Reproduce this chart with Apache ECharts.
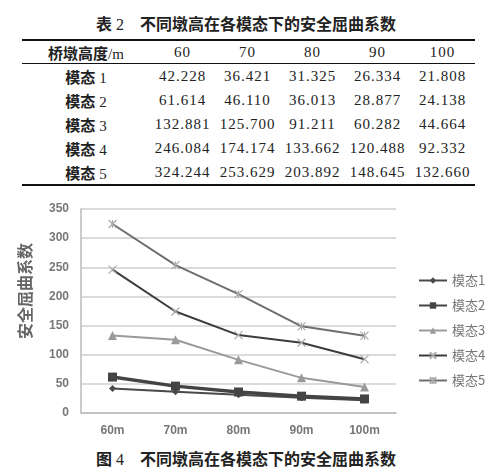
<!DOCTYPE html>
<html>
<head>
<meta charset="utf-8">
<script src="https://cdn.jsdelivr.net/npm/echarts@6/dist/echarts.min.js"></script>
<style>
  body { margin: 0; width: 492px; height: 470px; background: #fff; position: relative; overflow: hidden; }
  .title { position: absolute; left: 0; width: 492px; text-align: center; font-family: "Noto Sans CJK SC"; font-weight: bold; font-size: 16px; color: #222; }
  .title .num { font-family: "Liberation Serif"; font-weight: normal; }
  table { position: absolute; left: 22px; top: 39px; border-collapse: collapse; color: #222; }
  table td { padding: 0; text-align: center; font-family: "Liberation Serif"; font-size: 15px; letter-spacing: 1px; height: 24px; }
  table td.lab { width: 128px; font-family: "Noto Sans CJK SC"; font-weight: bold; letter-spacing: 0; }
  table td.lab span { font-family: "Liberation Serif"; font-weight: normal; }
  table td.v { width: 65px; }
  tr.head td { border-top: 2px solid #111; border-bottom: 1px solid #111; height: 22px; }
  tr.last td { border-bottom: 2px solid #111; }
  #chart { position: absolute; left: 0; top: 190px; width: 492px; height: 256px; }
</style>
</head>
<body>
<div class="title" style="top:11px">表<span class="num"> 2</span>　不同墩高在各模态下的安全屈曲系数</div>
<table id="tbl"></table>
<div id="chart"></div>
<div class="title" style="top:446px">图<span class="num"> 4</span>　不同墩高在各模态下的安全屈曲系数</div>
<script>
const heights = ['60', '70', '80', '90', '100'];
const xLabels = ['60m', '70m', '80m', '90m', '100m'];
const modeNames = ['模态1', '模态2', '模态3', '模态4', '模态5'];
const mode1 = [42.228, 36.421, 31.325, 26.334, 21.808];
const mode2 = [61.614, 46.110, 36.013, 28.877, 24.138];
const mode3 = [132.881, 125.700, 91.211, 60.282, 44.664];
const mode4 = [246.084, 174.174, 133.662, 120.488, 92.332];
const mode5 = [324.244, 253.629, 203.892, 148.645, 132.660];
const modes = [mode1, mode2, mode3, mode4, mode5];

// table
let html = '<tr class="head"><td class="lab">桥墩高度<span>/m</span></td>' +
  heights.map(h => '<td class="v">' + h + '</td>').join('') + '</tr>';
modes.forEach((vals, i) => {
  html += '<tr' + (i === modes.length - 1 ? ' class="last"' : '') + '><td class="lab">模态<span> ' + (i + 1) + '</span></td>' +
    vals.map(v => '<td class="v">' + v.toFixed(3) + '</td>').join('') + '</tr>';
});
document.getElementById('tbl').innerHTML = html;

const cross = 'path://M0,0L10,10M10,0L0,10';
const star = 'path://M0,0L10,10M10,0L0,10M5,0L5,10';
const styles = [
  { color: '#4a4a4a', width: 2, symbol: 'diamond', size: 7 },
  { color: '#444', width: 3.5, symbol: 'rect', size: 9 },
  { color: '#9a9a9a', width: 2, symbol: 'triangle', size: 9 },
  { color: '#3c3c3c', width: 2, symbol: cross, size: 8, mark: '#aaa' },
  { color: '#6e6e6e', width: 2, symbol: star, size: 8, mark: '#aaa' }
];

const chart = echarts.init(document.getElementById('chart'));
chart.setOption({
  animation: false,
  textStyle: { fontFamily: 'Liberation Sans' },
  grid: { left: 81, top: 19, width: 315, height: 204 },
  legend: {
    data: modeNames,
    orient: 'vertical',
    left: 413,
    top: 79,
    itemWidth: 28,
    itemHeight: 8,
    itemGap: 12,
    textStyle: { color: '#777', fontSize: 13, fontFamily: 'Noto Sans CJK SC' }
  },
  xAxis: {
    type: 'category',
    data: xLabels,
    axisLine: { lineStyle: { color: '#bbb', width: 1.5 } },
    axisTick: { show: false },
    axisLabel: { color: '#777', fontSize: 12, fontWeight: 'bold', margin: 12 }
  },
  yAxis: {
    type: 'value',
    min: 0,
    max: 350,
    interval: 50,
    name: '安全屈曲系数',
    nameLocation: 'middle',
    nameRotate: 90,
    nameGap: 48,
    nameTextStyle: { color: '#666', fontSize: 16, fontWeight: 'bold', fontFamily: 'Noto Sans CJK SC', padding: [0, 0, 0, 40] },
    axisLine: { show: true, lineStyle: { color: '#bbb', width: 1.5 } },
    axisTick: { show: false },
    axisLabel: { color: '#777', fontSize: 12, fontWeight: 'bold', margin: 12 },
    splitLine: { lineStyle: { color: '#cfcfcf', width: 1.5 } }
  },
  series: modes.map((vals, i) => ({
    name: modeNames[i],
    type: 'line',
    data: vals,
    symbol: styles[i].symbol,
    symbolSize: styles[i].size,
    showAllSymbol: true,
    lineStyle: { color: styles[i].color, width: styles[i].width },
    itemStyle: styles[i].mark
      ? { color: 'none', borderColor: styles[i].mark, borderWidth: 1.2 }
      : { color: styles[i].color, borderWidth: 0 }
  }))
});
</script>
</body>
</html>
